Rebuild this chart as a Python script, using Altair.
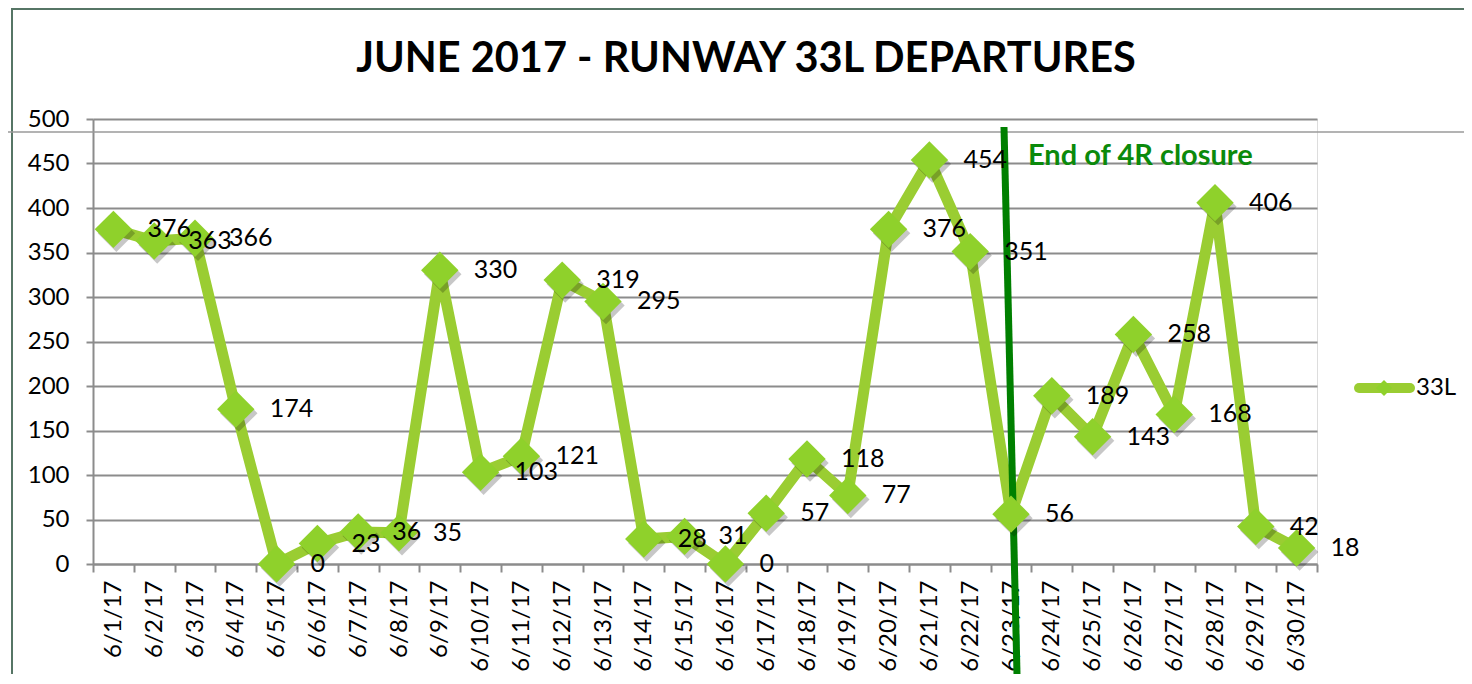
import altair as alt
import pandas as pd

dates = ["6/1/17", "6/2/17", "6/3/17", "6/4/17", "6/5/17", "6/6/17", "6/7/17", "6/8/17",
         "6/9/17", "6/10/17", "6/11/17", "6/12/17", "6/13/17", "6/14/17", "6/15/17",
         "6/16/17", "6/17/17", "6/18/17", "6/19/17", "6/20/17", "6/21/17", "6/22/17",
         "6/23/17", "6/24/17", "6/25/17", "6/26/17", "6/27/17", "6/28/17", "6/29/17", "6/30/17"]
values = [376, 363, 366, 174, 0, 23, 36, 35, 330, 103, 121, 319, 295, 28, 31, 0, 57, 118, 77,
          376, 454, 351, 56, 189, 143, 258, 168, 406, 42, 18]
series_name = "33L"
title_text = "JUNE 2017 - RUNWAY 33L DEPARTURES"
annotation_text = "End of 4R closure"
y_ticks = [0, 50, 100, 150, 200, 250, 300, 350, 400, 450, 500]

df = pd.DataFrame({"date": dates, "value": values})

W, H = 1224, 445
RP = 147
FONT = "Lato"
LINE = "#9ACD32"
DIAM = "#8FD12B"
GRID = "#8c8c8c"

x_enc = alt.X("date:N", sort=dates,
              scale=alt.Scale(type="band", paddingInner=0, paddingOuter=0),
              axis=alt.Axis(title=None, labelAngle=270, labelFontSize=24, labelFont=FONT,
                            labelColor="black", labelPadding=8, tickBand="extent",
                            tickSize=8, tickWidth=2, tickColor=GRID, domainColor=GRID,
                            domainWidth=2, grid=False, labelOverlap=False))
y_enc = alt.Y("value:Q", scale=alt.Scale(domain=[0, 500], nice=False),
              axis=alt.Axis(title=None, values=y_ticks, labelFontSize=24, labelFont=FONT,
                            labelColor="black", labelPadding=17, tickSize=7, tickWidth=2,
                            tickColor=GRID, domainColor=GRID, domainWidth=2,
                            gridColor=GRID, gridWidth=2))

base = alt.Chart(df)

line = base.mark_line(color=LINE, strokeWidth=11, strokeJoin="miter").encode(x=x_enc, y=y_enc)
shadow = base.mark_point(shape="diamond", filled=True, color="#000000", opacity=0.22,
                         size=1400, xOffset=3, yOffset=4).encode(x=x_enc, y=y_enc)
points = base.mark_point(shape="diamond", filled=True, color=DIAM, opacity=1,
                         size=1400).encode(x=x_enc, y=y_enc)
labels = base.mark_text(align="left", baseline="middle", dx=34, fontSize=25, font=FONT,
                        color="black").encode(x=x_enc, y=y_enc, text="value:Q")

one = pd.DataFrame({"t": [""]})

frame_left = alt.Chart(one).mark_rule(color="#567565", strokeWidth=2).encode(
    x=alt.value(-81), x2=alt.value(-81), y=alt.value(-111), y2=alt.value(H + 110))
frame_top = alt.Chart(one).mark_rule(color="#567565", strokeWidth=2).encode(
    x=alt.value(-81), x2=alt.value(W + RP), y=alt.value(-110), y2=alt.value(-110))
thin_line = alt.Chart(one).mark_rule(color="#9a9a9a", strokeWidth=1.5).encode(
    x=alt.value(-85), x2=alt.value(W + RP), y=alt.value(13), y2=alt.value(13))

green_rule = alt.Chart(one).mark_rule(color="#008000", strokeWidth=7).encode(
    x=alt.value(911), x2=alt.value(924), y=alt.value(8), y2=alt.value(H + 110))
annot = alt.Chart(pd.DataFrame({"t": [annotation_text]})).mark_text(
    align="left", baseline="alphabetic", fontSize=29, font=FONT, fontWeight="bold",
    color="#0B8A0B").encode(x=alt.value(935), y=alt.value(46), text="t:N")

title = alt.Chart(pd.DataFrame({"t": [title_text]})).mark_text(
    align="center", baseline="alphabetic", fontSize=41.5, font=FONT, fontWeight="bold",
    color="black").encode(x=alt.value(653), y=alt.value(-47), text="t:N")

leg_line = alt.Chart(one).mark_rule(color=LINE, strokeWidth=10, strokeCap="round").encode(
    x=alt.value(1266), x2=alt.value(1317), y=alt.value(269), y2=alt.value(269))
leg_pt = alt.Chart(one).mark_point(shape="diamond", filled=True, color=DIAM, opacity=1,
                                    size=260).encode(x=alt.value(1291), y=alt.value(269))
leg_txt = alt.Chart(pd.DataFrame({"t": [series_name]})).mark_text(
    align="left", baseline="middle", fontSize=24, font=FONT, color="black").encode(
    x=alt.value(1323), y=alt.value(269), text="t:N")

chart = alt.layer(
    frame_left, frame_top, thin_line, line, green_rule, shadow, points, labels,
    annot, title, leg_line, leg_pt, leg_txt
).properties(
    width=W, height=H,
    autosize=alt.AutoSizeParams(type="none"),
    padding={"left": 85, "top": 111, "right": RP, "bottom": 110},
).configure_view(strokeWidth=0).configure(background="white")

chart.save("out.html", embed_options={"renderer": "svg", "actions": False})
